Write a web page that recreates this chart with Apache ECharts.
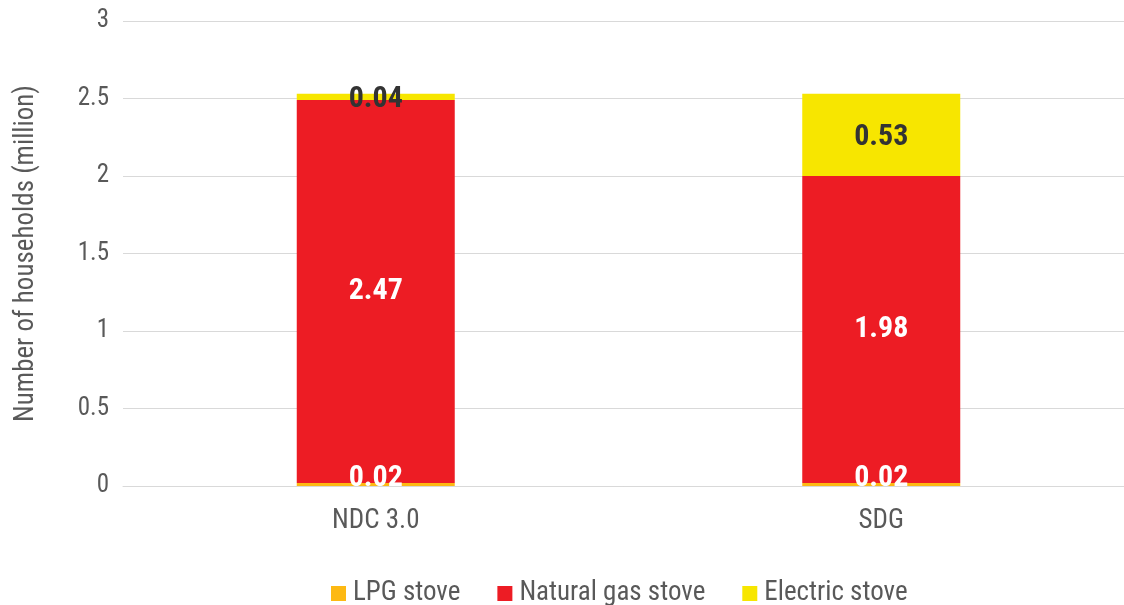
<!DOCTYPE html>
<html>
<head>
<meta charset="utf-8">
<script src="https://cdn.jsdelivr.net/npm/echarts@6/dist/echarts.min.js"></script>
<style>
  html, body { margin: 0; padding: 0; background: #fff; }
  #chart { width: 1124px; height: 605px; }
</style>
</head>
<body>
<div id="chart"></div>
<script>
// Household cooking stove mix by scenario (million households)
const categories = ['NDC 3.0', 'SDG'];
const lpgStove = [0.02, 0.02];
const naturalGasStove = [2.47, 1.98];
const electricStove = [0.04, 0.53];
const yTicks = { min: 0, max: 3, interval: 0.5 };

const FONT = '"Roboto Condensed", Roboto, sans-serif';
const grey = '#595959';

const chart = echarts.init(document.getElementById('chart'));

function stackSeries(name, data, color, labelColor, shiftY) {
  return {
    name: name,
    type: 'bar',
    stack: 'total',
    data: data,
    barWidth: 158,
    itemStyle: { color: color },
    label: {
      show: true,
      position: 'inside',
      formatter: p => p.value.toFixed(2),
      color: labelColor,
      fontFamily: FONT,
      fontWeight: 'bold',
      fontSize: 30
    },
    labelLayout: { hideOverlap: false, dy: shiftY }
  };
}

chart.setOption({
  animation: false,
  textStyle: { fontFamily: FONT },
  grid: {
    left: 123, width: 1011, top: 21, height: 465,
    containLabel: false,
    outerBoundsMode: 'none'
  },
  legend: {
    bottom: -7,
    left: 326,
    icon: 'rect',
    itemWidth: 15,
    itemHeight: 15,
    itemGap: 37,
    textStyle: { color: grey, fontSize: 27, fontFamily: FONT, padding: [0, 0, 0, 2] },
    data: ['LPG stove', 'Natural gas stove', 'Electric stove']
  },
  xAxis: {
    type: 'category',
    data: categories,
    axisLine: { lineStyle: { color: '#d9d9d9', width: 1 } },
    axisTick: { show: false },
    axisLabel: { color: grey, fontSize: 27, margin: 22, fontFamily: FONT }
  },
  yAxis: {
    type: 'value',
    min: yTicks.min,
    max: yTicks.max,
    interval: yTicks.interval,
    name: 'Number of households (million)',
    nameLocation: 'middle',
    nameGap: 83,
    nameTextStyle: { color: grey, fontSize: 27, fontFamily: FONT },
    axisLine: { show: false },
    axisTick: { show: false },
    axisLabel: { color: grey, fontSize: 25, margin: 14, fontFamily: FONT },
    splitLine: { lineStyle: { color: '#d9d9d9', width: 1 } }
  },
  series: [
    stackSeries('LPG stove', lpgStove, '#FDB913', '#ffffff', -6),
    stackSeries('Natural gas stove', naturalGasStove, '#ED1C24', '#ffffff', 0),
    stackSeries('Electric stove', electricStove, '#F7E600', '#333333', 3)
  ]
});
</script>
</body>
</html>
